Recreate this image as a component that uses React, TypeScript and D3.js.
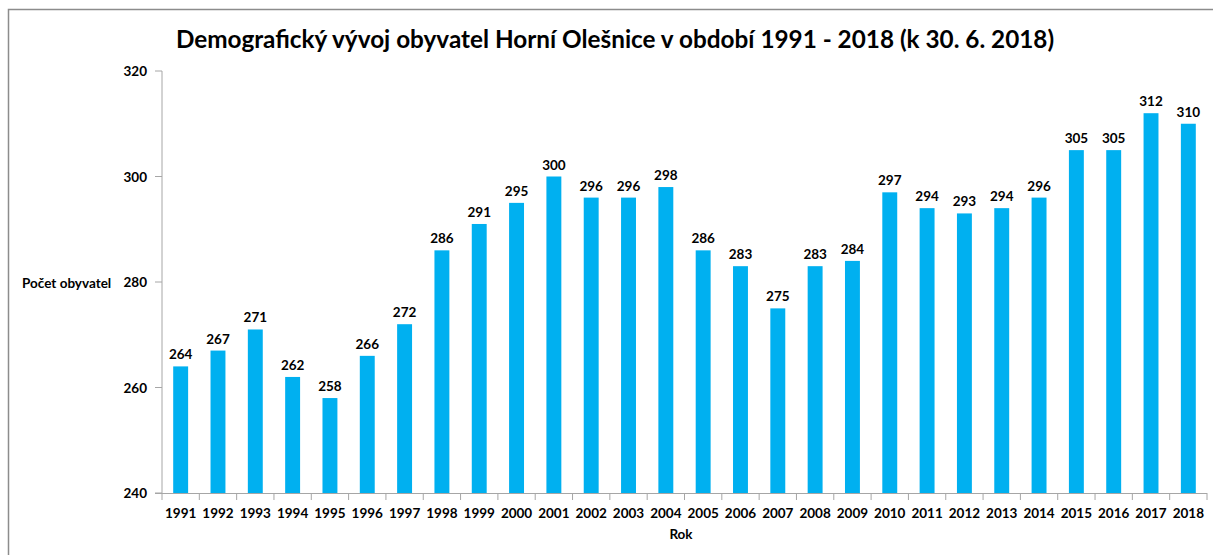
import * as d3 from "d3";

const width = 1213;
const height = 555;
const marginLeft = 162;
const marginRight = 6;
const marginTop = 71;
const marginBottom = 62;

const years = [
  "1991", "1992", "1993", "1994", "1995", "1996", "1997", "1998", "1999", "2000",
  "2001", "2002", "2003", "2004", "2005", "2006", "2007", "2008", "2009", "2010",
  "2011", "2012", "2013", "2014", "2015", "2016", "2017", "2018",
];
const population = [
  264, 267, 271, 262, 258, 266, 272, 286, 291, 295,
  300, 296, 296, 298, 286, 283, 275, 283, 284, 297,
  294, 293, 294, 296, 305, 305, 312, 310,
];
const yTicks = [240, 260, 280, 300, 320];

const font = "Lato, 'Open Sans', sans-serif";
const axisColor = "#a6a6a6";
const fs = 13.5;

const App = () => {
  const x = d3.scaleBand(years, [marginLeft, width - marginRight]).paddingInner(0.6).paddingOuter(0.3);
  const band = d3.scaleBand(years, [marginLeft, width - marginRight]);
  const y = d3.scaleLinear([240, 320], [height - marginBottom, marginTop]);
  const y0 = height - marginBottom;

  return (
    <svg width={width} height={height} style={{ position: "absolute", left: 0, top: 0 }} fontFamily={font}>
      <rect x={8.5} y={9.5} width={width + 10} height={height + 10} fill="white" stroke="#8c8c8c" strokeWidth={1.5} />
      <text x={615} y={48} textAnchor="middle" fontSize={24.3} fontWeight="bold" fill="#000">
        Demografický vývoj obyvatel Horní Olešnice v období 1991 - 2018 (k 30. 6. 2018)
      </text>

      {population.map((d, i) => (
        <g key={years[i]}>
          <rect x={x(years[i])} y={y(d)} width={x.bandwidth()} height={y0 - y(d)} fill="#00b0f0" />
          <text x={x(years[i])! + x.bandwidth() / 2} y={y(d) - 7} textAnchor="middle" fontSize={fs} fontWeight="bold">
            {d}
          </text>
        </g>
      ))}

      {/* y axis */}
      <line x1={marginLeft} x2={marginLeft} y1={marginTop} y2={y0} stroke={axisColor} />
      {yTicks.map((t) => (
        <g key={t}>
          <line x1={marginLeft - 7} x2={marginLeft} y1={y(t)} y2={y(t)} stroke={axisColor} />
          <text x={marginLeft - 15} y={y(t) + 5} textAnchor="end" fontSize={fs} fontWeight="bold">
            {t}
          </text>
        </g>
      ))}

      {/* x axis */}
      <line x1={marginLeft - 7} x2={width - marginRight} y1={y0 + 0.5} y2={y0 + 0.5} stroke={axisColor} />
      {years.map((yr) => (
        <g key={yr}>
          <line x1={band(yr)!} x2={band(yr)!} y1={y0} y2={y0 + 7} stroke={axisColor} />
          <text x={band(yr)! + band.bandwidth() / 2} y={518} textAnchor="middle" fontSize={fs} fontWeight="bold">
            {yr}
          </text>
        </g>
      ))}
      <line x1={width - marginRight} x2={width - marginRight} y1={y0} y2={y0 + 7} stroke={axisColor} />

      <text x={681} y={539} textAnchor="middle" fontSize={fs} fontWeight="bold">Rok</text>
      <text x={22} y={288} fontSize={fs} fontWeight="bold">Počet obyvatel</text>
    </svg>
  );
};

export default App;
